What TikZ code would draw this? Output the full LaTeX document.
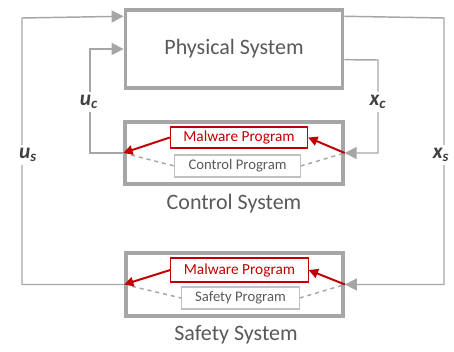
\documentclass[tikz,border=0pt]{standalone}
\usepackage{fontspec}
\setmainfont{Carlito}
\usetikzlibrary{arrows.meta}
\definecolor{lgray}{HTML}{A6A6A6}
\definecolor{tgray}{HTML}{595959}
\definecolor{dgray}{HTML}{404040}
\definecolor{mred}{HTML}{C00000}

\begin{document}
\begin{tikzpicture}[x=0.75pt, y=-0.75pt,
    sysbox/.style={rectangle, draw=lgray, line width=2.6pt, inner sep=0pt},
    malbox/.style={rectangle, draw=mred, line width=0.8pt, text=mred, inner sep=0pt, minimum width=103pt, font=\fontsize{11.5}{12}\selectfont},
    progbox/.style={rectangle, draw=lgray!70, line width=0.8pt, text=tgray, inner sep=0pt, minimum height=16.5pt, font=\fontsize{11}{12}\selectfont},
    link/.style={draw=lgray, line width=1.1pt, -{Triangle[length=9pt, width=9pt]}},
    attack/.style={draw=mred, line width=1.5pt, -{Triangle[length=7pt, width=7pt]}},
    normal/.style={draw=lgray, line width=1.1pt, dashed},
    sig/.style={fill=white, text=dgray, inner sep=2pt, font=\fontsize{16}{17}\selectfont\bfseries\itshape}]
    \useasboundingbox (0,0) rectangle (454,351);

    % Plant
    \node[sysbox, minimum width=163pt, minimum height=58.5pt, text=tgray, font=\fontsize{16.5}{18}\selectfont] (PHYS) at (234,49) {Physical System};

    % Control system
    \node[sysbox, minimum width=163.5pt, minimum height=46.5pt] (CTRL) at (234,153) {};
    \node[malbox, minimum height=15.75pt] (MAL1) at (239,137.5) {Malware Program};
    \node[progbox, minimum width=94pt] (CPROG) at (237.5,166) {Control Program};
    \node[text=tgray, font=\fontsize{16.5}{18}\selectfont] (CLBL) at (234,204) {Control System};

    % Safety system
    \node[sysbox, minimum width=163pt, minimum height=47pt] (SAFE) at (234.5,284.5) {};
    \node[malbox, minimum height=18pt] (MAL2) at (239.5,270) {Malware Program};
    \node[progbox, minimum width=88pt] (SPROG) at (240.5,298) {Safety Program};
    \node[text=tgray, font=\fontsize{16.5}{18}\selectfont] (SLBL) at (236,335) {Safety System};

    % Loop corners
    \coordinate (RC) at (378,60);
    \coordinate (LC) at (90,49);
    \coordinate (RS) at (444,18);
    \coordinate (LS) at (22,18);

    % Loops
    \draw[link] ([yshift=-8pt]PHYS.east) -- (RC) |- (CTRL.east);
    \draw[link] (CTRL.west) -| (LC) -- (PHYS.west);
    \draw[link] ([yshift=-6pt]PHYS.north east) -- (RS) |- (SAFE.east);
    \draw[link] (SAFE.west) -| (LS) -- ([yshift=-6pt]PHYS.north west);

    % Signals
    \node[sig] (UC) at (89,102) {u\textsubscript{c}};
    \node[sig] (XC) at (378,102) {x\textsubscript{c}};
    \node[sig] (US) at (28,155) {u\textsubscript{s}};
    \node[sig] (XS) at (441,155) {x\textsubscript{s}};

    % Normal paths
    \draw[normal] (CTRL.west) -- (CPROG.west);
    \draw[normal] (CPROG.east) -- (CTRL.east);
    \draw[normal] (SAFE.west) -- (SPROG.west);
    \draw[normal] (SPROG.east) -- (SAFE.east);

    % Attack paths
    \draw[attack] (CTRL.east) -- (MAL1.east);
    \draw[attack] (MAL1.west) -- (CTRL.west);
    \draw[attack] (SAFE.east) -- (MAL2.east);
    \draw[attack] (MAL2.west) -- (SAFE.west);
\end{tikzpicture}
\end{document}
